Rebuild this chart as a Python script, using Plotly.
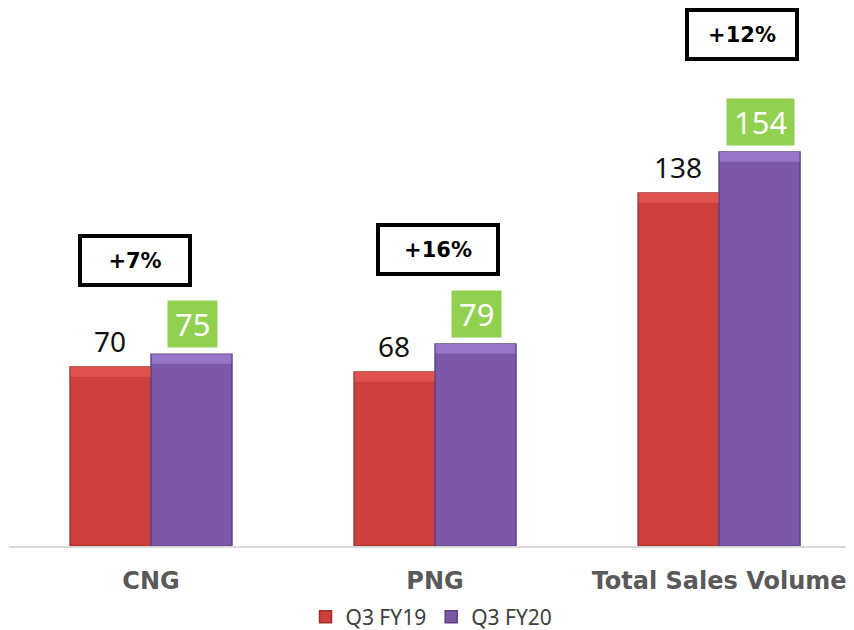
import plotly.graph_objects as go

categories = ["CNG", "PNG", "Total Sales Volume"]
fy19 = [70, 68, 138]
fy20 = [75, 79, 154]
growth = ["+7%", "+16%", "+12%"]
series_names = ["Q3 FY19", "Q3 FY20"]

RED = "#cd3f3c"
RED_LINE = "#a22f2c"
RED_TOP = "#e0524e"
PURPLE = "#7c58a8"
PURPLE_LINE = "#5c4182"
PURPLE_TOP = "#9676c8"
GREEN = "#92d050"

BAR_W = 0.285
BEVEL = 3.8  # height of the lighter top bevel, in value units

fig = go.Figure()
fig.add_trace(go.Bar(x=categories, y=fy19, name=series_names[0], width=BAR_W, offset=-BAR_W,
                     marker=dict(color=RED, line=dict(color=RED_LINE, width=1.5))))
fig.add_trace(go.Bar(x=categories, y=fy20, name=series_names[1], width=BAR_W, offset=0,
                     marker=dict(color=PURPLE, line=dict(color=PURPLE_LINE, width=1.5))))
# bevel highlight on top of each bar
fig.add_trace(go.Bar(x=categories, y=[BEVEL] * len(fy19), base=[v - BEVEL for v in fy19],
                     width=BAR_W * 0.985, offset=-BAR_W * 0.9925, showlegend=False, hoverinfo="skip",
                     marker=dict(color=RED_TOP, line=dict(width=0))))
fig.add_trace(go.Bar(x=categories, y=[BEVEL] * len(fy20), base=[v - BEVEL for v in fy20],
                     width=BAR_W * 0.985, offset=BAR_W * 0.0075, showlegend=False, hoverinfo="skip",
                     marker=dict(color=PURPLE_TOP, line=dict(width=0))))

annotations = []
box_xshift = [-16, 3, 23]
box_yshift = [94, 94, 118]
for i, c in enumerate(categories):
    annotations.append(dict(x=c, y=fy19[i], xref="x", yref="y", text=str(fy19[i]),
                            showarrow=False, xshift=-41, yshift=26,
                            font=dict(family="Noto Sans", size=28, color="#111111")))
    annotations.append(dict(x=c, y=fy20[i], xref="x", yref="y", text=str(fy20[i]),
                            showarrow=False, xshift=41, yshift=30,
                            bgcolor=GREEN, height=32, borderpad=7,
                            font=dict(family="Noto Sans", size=31, color="white")))
    annotations.append(dict(x=c, y=fy20[i], xref="x", yref="y", text="<b>%s</b>" % growth[i],
                            showarrow=False, xshift=box_xshift[i], yshift=box_yshift[i],
                            width=(106 if i != 1 else 116), height=45, borderpad=0,
                            bordercolor="black", borderwidth=4, bgcolor="white",
                            font=dict(family="DejaVu Sans", size=21, color="black")))

fig.update_layout(
    width=846, height=622,
    margin=dict(l=1, r=0, t=0, b=84, autoexpand=False),
    paper_bgcolor="white", plot_bgcolor="white",
    barmode="overlay",
    showlegend=True,
    legend=dict(orientation="h", x=0.5, xanchor="center", y=-0.132, yanchor="middle",
                font=dict(family="Noto Sans", size=21, color="#404040"),
                itemwidth=30, traceorder="normal"),
    annotations=annotations,
    xaxis=dict(range=[-0.5, 2.475], showgrid=False, zeroline=False,
               showline=True, linecolor="#d9d9d9", linewidth=2,
               ticks="", ticklabelstandoff=12,
               tickfont=dict(family="DejaVu Sans", size=24, color="#595959", weight="bold")),
    yaxis=dict(range=[0, 210.3], visible=False),
)

fig.write_html("out.html")
